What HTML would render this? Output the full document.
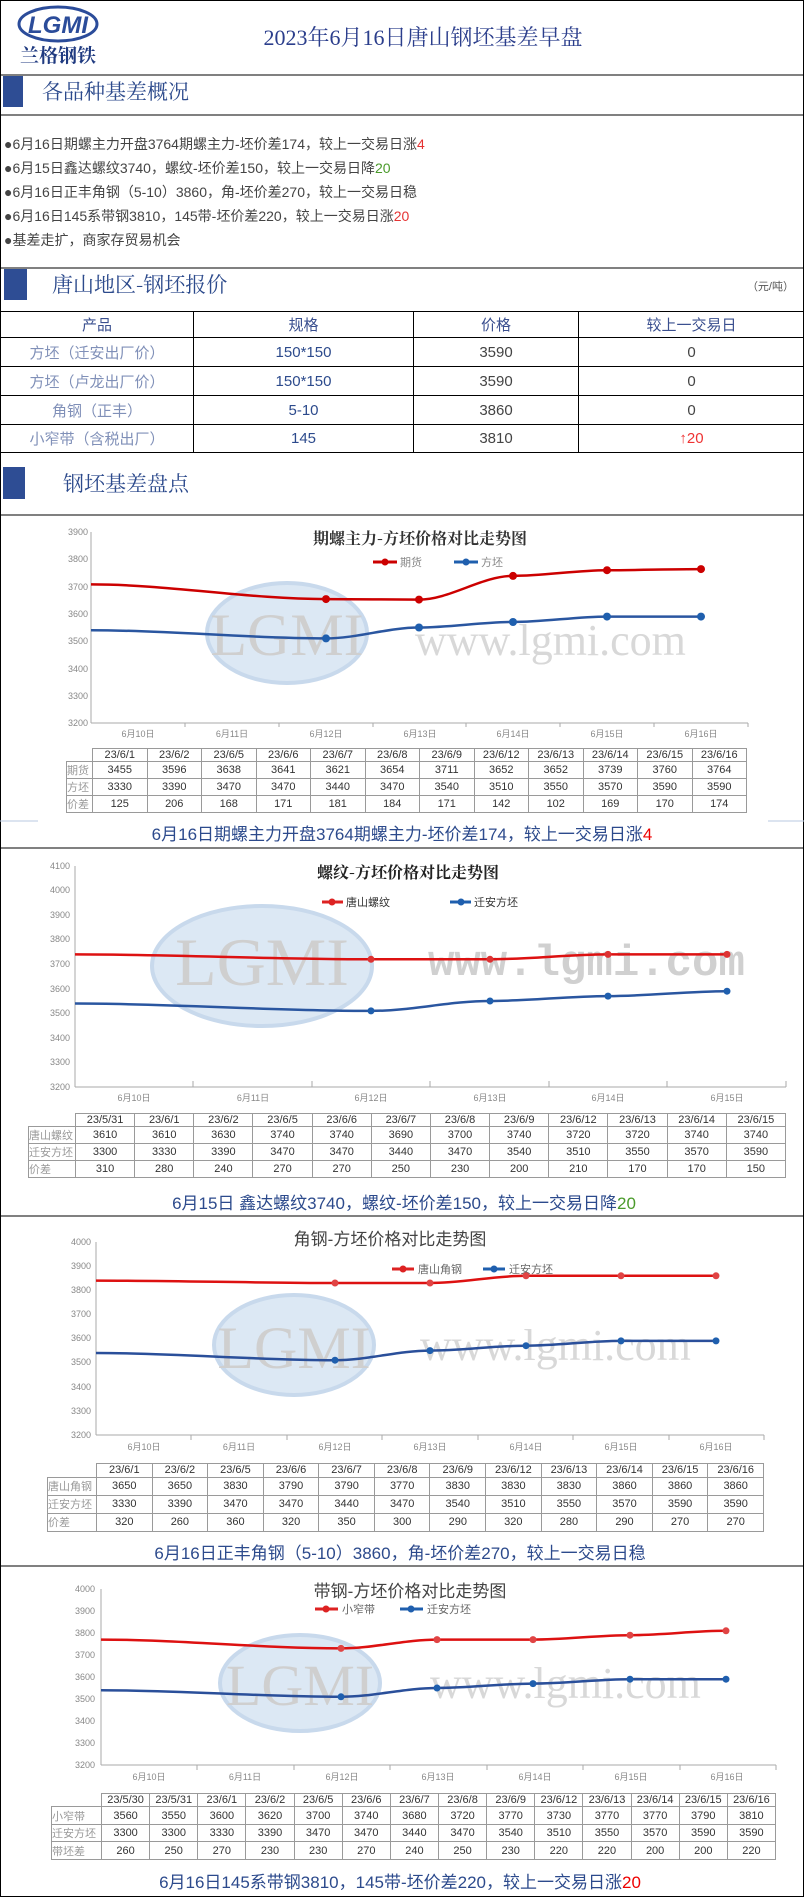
<!DOCTYPE html>
<html><head><meta charset="utf-8">
<style>
*{margin:0;padding:0;box-sizing:border-box}
body{width:804px;height:1897px;background:#fff;position:relative;overflow:hidden;font-family:"Liberation Sans","Noto Sans CJK SC",sans-serif}
svg{position:absolute;left:0;top:0}
table{position:absolute;border-collapse:collapse;table-layout:fixed;font-size:11px;color:#333}
td{border:1px solid #9a9a9a;text-align:center;padding:0;white-space:nowrap;overflow:hidden}
td.l{color:#999;text-align:left;font-size:11px}
td.e{border:none}
.pt td{font-size:15px;color:#444;border:1px solid #000}
</style></head><body>
<svg width="804" height="1897" viewBox="0 0 804 1897" font-family="Liberation Sans, Noto Sans CJK SC, sans-serif">
<rect x="0.5" y="0.5" width="803" height="1896" fill="none" stroke="#000"/>
<!-- header -->
<ellipse cx="58" cy="24" rx="39" ry="17" fill="none" stroke="#2b4c9a" stroke-width="3"/>
<text x="58" y="33" font-size="24" font-weight="bold" fill="#2b4c9a" text-anchor="middle" font-style="italic">LGMI</text>
<text x="58" y="62" font-size="19" font-weight="bold" fill="#1f3a80" text-anchor="middle" font-family="Noto Serif CJK SC, serif">兰格钢铁</text>
<text x="423" y="45" font-size="22" fill="#2b3e8c" text-anchor="middle" font-family="Liberation Serif, Noto Serif CJK SC, serif">2023年6月16日唐山钢坯基差早盘</text>
<line x1="0" y1="75" x2="804" y2="75" stroke="#000"/>
<rect x="3" y="76" width="20" height="31" fill="#2e4d94"/>
<text x="42" y="99" font-size="21" fill="#2c4a8c" font-family="Noto Serif CJK SC, serif">各品种基差概况</text>
<line x1="0" y1="115" x2="804" y2="115" stroke="#000"/>
<g font-size="14" fill="#444">
<text x="4" y="149">●6月16日期螺主力开盘3764期螺主力-坯价差174，较上一交易日涨<tspan fill="#e53333">4</tspan></text>
<text x="4" y="173">●6月15日鑫达螺纹3740，螺纹-坯价差150，较上一交易日降<tspan fill="#4a9a2a">20</tspan></text>
<text x="4" y="197">●6月16日正丰角钢（5-10）3860，角-坯价差270，较上一交易日稳</text>
<text x="4" y="221">●6月16日145系带钢3810，145带-坯价差220，较上一交易日涨<tspan fill="#e53333">20</tspan></text>
<text x="4" y="245">●基差走扩，商家存贸易机会</text>
</g>
<line x1="0" y1="268" x2="804" y2="268" stroke="#000"/>
<rect x="4" y="269" width="23" height="31" fill="#2e4d94"/>
<text x="52" y="292" font-size="21" fill="#2c4a8c" font-family="Noto Serif CJK SC, serif">唐山地区-钢坯报价</text>
<text x="794" y="290" font-size="11" fill="#555" text-anchor="end">（元/吨）</text>
<rect x="3" y="467" width="22" height="32" fill="#2e4d94"/>
<text x="63" y="491" font-size="21" fill="#2c4a8c" font-family="Noto Serif CJK SC, serif">钢坯基差盘点</text>
<line x1="0" y1="515" x2="804" y2="515" stroke="#000"/>

<!-- chart 1 -->
<ellipse cx="287" cy="633" rx="80" ry="50" fill="#dce8f4" stroke="#c8d9ec" stroke-width="4"/>
<text x="287" y="655" font-size="60" fill="#cfcfcf" text-anchor="middle" font-family="Liberation Serif, serif">LGMI</text>
<text x="415" y="655" font-size="44" fill="#d8d8d8" font-family="Liberation Serif, serif">www.lgmi.com</text>
<text x="420" y="544" font-size="16" font-weight="bold" fill="#333" text-anchor="middle" font-family="Noto Serif CJK SC, serif">期螺主力-方坯价格对比走势图</text>
<line x1="373" y1="562" x2="397" y2="562" stroke="#c00" stroke-width="3"/><circle cx="385" cy="562" r="3.5" fill="#c00"/><text x="400" y="566" font-size="11" fill="#888">期货</text>
<line x1="454" y1="562" x2="478" y2="562" stroke="#1f5fae" stroke-width="3"/><circle cx="466" cy="562" r="3.5" fill="#1f5fae"/><text x="481" y="566" font-size="11" fill="#888">方坯</text>
<g font-size="9" fill="#888" text-anchor="end">
<text x="88" y="535">3900</text><text x="88" y="562">3800</text><text x="88" y="590">3700</text><text x="88" y="617">3600</text><text x="88" y="644">3500</text><text x="88" y="672">3400</text><text x="88" y="699">3300</text><text x="88" y="726">3200</text></g>
<g stroke="#aaa"><line x1="91" y1="532" x2="91" y2="723"/><line x1="91" y1="723" x2="748" y2="723"/>
<line x1="185" y1="723" x2="185" y2="727"/><line x1="279" y1="723" x2="279" y2="727"/><line x1="373" y1="723" x2="373" y2="727"/><line x1="466" y1="723" x2="466" y2="727"/><line x1="560" y1="723" x2="560" y2="727"/><line x1="654" y1="723" x2="654" y2="727"/><line x1="748" y1="723" x2="748" y2="727"/></g>
<g font-size="9" fill="#888" text-anchor="middle"><text x="138" y="737">6月10日</text><text x="232" y="737">6月11日</text><text x="326" y="737">6月12日</text><text x="420" y="737">6月13日</text><text x="513" y="737">6月14日</text><text x="607" y="737">6月15日</text><text x="701" y="737">6月16日</text></g>
<path d="M91 584.4 C169 584.4 248 599.1 326 599.1 C357 599.1 388 599.6 419 599.6 C450 599.6 482 575.9 513 575.9 C544 575.9 576 570.2 607 570.2 C638 570.2 670 569.1 701 569.1" fill="none" stroke="#c00" stroke-width="2.5"/>
<path d="M91 630.2 C169 630.2 248 638.4 326 638.4 C357 638.4 388 627.5 419 627.5 C450 627.5 482 622 513 622 C544 622 576 616.6 607 616.6 C638 616.6 670 616.6 701 616.6" fill="none" stroke="#2a56a0" stroke-width="2.5"/>
<g fill="#c00"><circle cx="326" cy="599.1" r="4"/><circle cx="419" cy="599.6" r="4"/><circle cx="513" cy="575.9" r="4"/><circle cx="607" cy="570.2" r="4"/><circle cx="701" cy="569.1" r="4"/></g>
<g fill="#1f5fae"><circle cx="326" cy="638.4" r="4"/><circle cx="419" cy="627.5" r="4"/><circle cx="513" cy="622" r="4"/><circle cx="607" cy="616.6" r="4"/><circle cx="701" cy="616.6" r="4"/></g>
<line x1="0" y1="821" x2="38" y2="821" stroke="#b8c8e0"/><line x1="768" y1="821" x2="804" y2="821" stroke="#b8c8e0"/>
<text x="402" y="840" font-size="17" fill="#2c4a8c" text-anchor="middle">6月16日期螺主力开盘3764期螺主力-坯价差174，较上一交易日涨<tspan fill="#e00">4</tspan></text>
<line x1="0" y1="848" x2="804" y2="848" stroke="#000"/>

<!-- chart 2 -->
<ellipse cx="262" cy="966" rx="110" ry="60" fill="#dce8f4" stroke="#c8d9ec" stroke-width="4"/>
<text x="262" y="985" font-size="68" fill="#cfcfcf" text-anchor="middle" font-family="Liberation Serif, serif">LGMI</text>
<text x="428" y="975" font-size="44" fill="#d0d0d0" font-family="Liberation Mono, monospace" font-weight="bold">www.lgmi.com</text>
<text x="408" y="878" font-size="16" font-weight="bold" fill="#222" text-anchor="middle" font-family="Noto Serif CJK SC, serif">螺纹-方坯价格对比走势图</text>
<line x1="322" y1="902" x2="343" y2="902" stroke="#d22" stroke-width="3"/><circle cx="332" cy="902" r="3.5" fill="#d22"/><text x="346" y="906" font-size="11" fill="#333">唐山螺纹</text>
<line x1="450" y1="902" x2="471" y2="902" stroke="#1f5fae" stroke-width="3"/><circle cx="461" cy="902" r="3.5" fill="#1f5fae"/><text x="474" y="906" font-size="11" fill="#333">迁安方坯</text>
<g font-size="9" fill="#888" text-anchor="end">
<text x="70" y="869">4100</text><text x="70" y="893">4000</text><text x="70" y="918">3900</text><text x="70" y="942">3800</text><text x="70" y="967">3700</text><text x="70" y="992">3600</text><text x="70" y="1016">3500</text><text x="70" y="1041">3400</text><text x="70" y="1065">3300</text><text x="70" y="1090">3200</text></g>
<g stroke="#aaa"><line x1="75" y1="866" x2="75" y2="1087"/><line x1="75" y1="1087" x2="786" y2="1087"/>
<line x1="193" y1="1081" x2="193" y2="1087"/><line x1="312" y1="1081" x2="312" y2="1087"/><line x1="430" y1="1081" x2="430" y2="1087"/><line x1="549" y1="1081" x2="549" y2="1087"/><line x1="667" y1="1081" x2="667" y2="1087"/><line x1="786" y1="1081" x2="786" y2="1087"/></g>
<g font-size="9" fill="#888" text-anchor="middle"><text x="134" y="1101">6月10日</text><text x="253" y="1101">6月11日</text><text x="371" y="1101">6月12日</text><text x="490" y="1101">6月13日</text><text x="608" y="1101">6月14日</text><text x="727" y="1101">6月15日</text></g>
<path d="M75 954.4 C174 954.4 272 959.3 371 959.3 C411 959.3 450 959.3 490 959.3 C529 959.3 569 954.4 608 954.4 C648 954.4 687 954.4 727 954.4" fill="none" stroke="#d11" stroke-width="2.5"/>
<path d="M75 1003.5 C174 1003.5 272 1010.9 371 1010.9 C411 1010.9 450 1001 490 1001 C529 1001 569 996.1 608 996.1 C648 996.1 687 991.2 727 991.2" fill="none" stroke="#2a56a0" stroke-width="2.5"/>
<g fill="#d33"><circle cx="371" cy="959.3" r="3.5"/><circle cx="490" cy="959.3" r="3.5"/><circle cx="608" cy="954.4" r="3.5"/><circle cx="727" cy="954.4" r="3.5"/></g>
<g fill="#1f5fae"><circle cx="371" cy="1010.9" r="3.5"/><circle cx="490" cy="1001" r="3.5"/><circle cx="608" cy="996.1" r="3.5"/><circle cx="727" cy="991.2" r="3.5"/></g>
<text x="404" y="1209" font-size="17" fill="#2c4a8c" text-anchor="middle">6月15日 鑫达螺纹3740，螺纹-坯价差150，较上一交易日降<tspan fill="#4a9a2a">20</tspan></text>
<line x1="0" y1="1216" x2="804" y2="1216" stroke="#000"/>

<!-- chart 3 -->
<ellipse cx="294" cy="1345" rx="80" ry="50" fill="#dce8f4" stroke="#c8d9ec" stroke-width="4"/>
<text x="294" y="1368" font-size="60" fill="#cfcfcf" text-anchor="middle" font-family="Liberation Serif, serif">LGMI</text>
<text x="420" y="1360" font-size="44" fill="#d8d8d8" font-family="Liberation Serif, serif">www.lgmi.com</text>
<text x="390" y="1245" font-size="17" fill="#444" text-anchor="middle">角钢-方坯价格对比走势图</text>
<line x1="392" y1="1269" x2="414" y2="1269" stroke="#d22" stroke-width="3"/><circle cx="403" cy="1269" r="3.5" fill="#d22"/><text x="418" y="1273" font-size="11" fill="#666">唐山角钢</text>
<line x1="483" y1="1269" x2="505" y2="1269" stroke="#1f5fae" stroke-width="3"/><circle cx="494" cy="1269" r="3.5" fill="#1f5fae"/><text x="509" y="1273" font-size="11" fill="#666">迁安方坯</text>
<g font-size="9" fill="#888" text-anchor="end">
<text x="91" y="1245">4000</text><text x="91" y="1269">3900</text><text x="91" y="1293">3800</text><text x="91" y="1317">3700</text><text x="91" y="1341">3600</text><text x="91" y="1365">3500</text><text x="91" y="1390">3400</text><text x="91" y="1414">3300</text><text x="91" y="1438">3200</text></g>
<g stroke="#aaa"><line x1="96" y1="1242" x2="96" y2="1435"/><line x1="96" y1="1435" x2="764" y2="1435"/>
<line x1="191" y1="1435" x2="191" y2="1440"/><line x1="287" y1="1435" x2="287" y2="1440"/><line x1="382" y1="1435" x2="382" y2="1440"/><line x1="478" y1="1435" x2="478" y2="1440"/><line x1="573" y1="1435" x2="573" y2="1440"/><line x1="669" y1="1435" x2="669" y2="1440"/><line x1="764" y1="1435" x2="764" y2="1440"/></g>
<g font-size="9" fill="#888" text-anchor="middle"><text x="144" y="1450">6月10日</text><text x="239" y="1450">6月11日</text><text x="335" y="1450">6月12日</text><text x="430" y="1450">6月13日</text><text x="526" y="1450">6月14日</text><text x="621" y="1450">6月15日</text><text x="716" y="1450">6月16日</text></g>
<path d="M96 1280.6 C176 1280.6 255 1283 335 1283 C367 1283 398 1283 430 1283 C462 1283 494 1275.8 526 1275.8 C558 1275.8 589 1275.8 621 1275.8 C653 1275.8 684 1275.8 716 1275.8" fill="none" stroke="#d11" stroke-width="2.5"/>
<path d="M96 1353 C176 1353 255 1360.2 335 1360.2 C367 1360.2 398 1350.6 430 1350.6 C462 1350.6 494 1345.7 526 1345.7 C558 1345.7 589 1340.9 621 1340.9 C653 1340.9 684 1340.9 716 1340.9" fill="none" stroke="#2a4f9a" stroke-width="2.5"/>
<g fill="#e04444"><circle cx="335" cy="1283" r="3.5"/><circle cx="430" cy="1283" r="3.5"/><circle cx="526" cy="1275.8" r="3.5"/><circle cx="621" cy="1275.8" r="3.5"/><circle cx="716" cy="1275.8" r="3.5"/></g>
<g fill="#1f5fae"><circle cx="335" cy="1360.2" r="3.5"/><circle cx="430" cy="1350.6" r="3.5"/><circle cx="526" cy="1345.7" r="3.5"/><circle cx="621" cy="1340.9" r="3.5"/><circle cx="716" cy="1340.9" r="3.5"/></g>
<text x="400" y="1559" font-size="17" fill="#2c4a8c" text-anchor="middle">6月16日正丰角钢（5-10）3860，角-坯价差270，较上一交易日稳</text>
<line x1="0" y1="1566" x2="804" y2="1566" stroke="#000"/>

<!-- chart 4 -->
<ellipse cx="300" cy="1683" rx="80" ry="48" fill="#dce8f4" stroke="#c8d9ec" stroke-width="4"/>
<text x="300" y="1705" font-size="58" fill="#cfcfcf" text-anchor="middle" font-family="Liberation Serif, serif">LGMI</text>
<text x="430" y="1698" font-size="44" fill="#d8d8d8" font-family="Liberation Serif, serif">www.lgmi.com</text>
<text x="410" y="1597" font-size="17" fill="#444" text-anchor="middle">带钢-方坯价格对比走势图</text>
<line x1="315" y1="1609" x2="338" y2="1609" stroke="#d22" stroke-width="3"/><circle cx="326" cy="1609" r="3.5" fill="#d22"/><text x="342" y="1613" font-size="11" fill="#666">小窄带</text>
<line x1="400" y1="1609" x2="423" y2="1609" stroke="#1f5fae" stroke-width="3"/><circle cx="411" cy="1609" r="3.5" fill="#1f5fae"/><text x="427" y="1613" font-size="11" fill="#666">迁安方坯</text>
<g font-size="9" fill="#888" text-anchor="end">
<text x="95" y="1592">4000</text><text x="95" y="1614">3900</text><text x="95" y="1636">3800</text><text x="95" y="1658">3700</text><text x="95" y="1680">3600</text><text x="95" y="1702">3500</text><text x="95" y="1724">3400</text><text x="95" y="1746">3300</text><text x="95" y="1768">3200</text></g>
<g stroke="#aaa"><line x1="101" y1="1589" x2="101" y2="1765"/><line x1="101" y1="1765" x2="776" y2="1765"/>
<line x1="197" y1="1765" x2="197" y2="1770"/><line x1="294" y1="1765" x2="294" y2="1770"/><line x1="390" y1="1765" x2="390" y2="1770"/><line x1="487" y1="1765" x2="487" y2="1770"/><line x1="583" y1="1765" x2="583" y2="1770"/><line x1="680" y1="1765" x2="680" y2="1770"/><line x1="776" y1="1765" x2="776" y2="1770"/></g>
<g font-size="9" fill="#888" text-anchor="middle"><text x="149" y="1780">6月10日</text><text x="245" y="1780">6月11日</text><text x="342" y="1780">6月12日</text><text x="438" y="1780">6月13日</text><text x="535" y="1780">6月14日</text><text x="631" y="1780">6月15日</text><text x="727" y="1780">6月16日</text></g>
<path d="M101 1639.6 C181 1639.6 261 1648.4 341 1648.4 C373 1648.4 405 1639.6 437 1639.6 C469 1639.6 501 1639.6 533 1639.6 C565 1639.6 598 1635.2 630 1635.2 C662 1635.2 694 1630.8 726 1630.8" fill="none" stroke="#d11" stroke-width="2.5"/>
<path d="M101 1690.2 C181 1690.2 261 1696.8 341 1696.8 C373 1696.8 405 1688 437 1688 C469 1688 501 1683.6 533 1683.6 C565 1683.6 598 1679.2 630 1679.2 C662 1679.2 694 1679.2 726 1679.2" fill="none" stroke="#2a4f9a" stroke-width="2.5"/>
<g fill="#e04444"><circle cx="341" cy="1648.4" r="3.5"/><circle cx="437" cy="1639.6" r="3.5"/><circle cx="533" cy="1639.6" r="3.5"/><circle cx="630" cy="1635.2" r="3.5"/><circle cx="726" cy="1630.8" r="3.5"/></g>
<g fill="#1f5fae"><circle cx="341" cy="1696.8" r="3.5"/><circle cx="437" cy="1688" r="3.5"/><circle cx="533" cy="1683.6" r="3.5"/><circle cx="630" cy="1679.2" r="3.5"/><circle cx="726" cy="1679.2" r="3.5"/></g>
<text x="400" y="1888" font-size="17" fill="#2c4a8c" text-anchor="middle">6月16日145系带钢3810，145带-坯价差220，较上一交易日涨<tspan fill="#e00">20</tspan></text>
</svg>

<table class="pt" style="left:0;top:311px;width:804px;height:141px">
<colgroup><col style="width:193px"><col style="width:220px"><col style="width:165px"><col style="width:226px"></colgroup>
<tr style="height:26px"><td style="color:#3a4f8f">产品</td><td style="color:#3a4f8f">规格</td><td style="color:#3a4f8f">价格</td><td style="color:#3a4f8f">较上一交易日</td></tr>
<tr style="height:29px"><td style="color:#8090b8">方坯（迁安出厂价）</td><td style="color:#2c4a8c">150*150</td><td>3590</td><td>0</td></tr>
<tr style="height:29px"><td style="color:#8090b8">方坯（卢龙出厂价）</td><td style="color:#2c4a8c">150*150</td><td>3590</td><td>0</td></tr>
<tr style="height:29px"><td style="color:#8090b8">角钢（正丰）</td><td style="color:#2c4a8c">5-10</td><td>3860</td><td>0</td></tr>
<tr style="height:28px"><td style="color:#8090b8">小窄带（含税出厂）</td><td style="color:#2c4a8c">145</td><td>3810</td><td style="color:#e33">↑20</td></tr>
</table>

<table style="left:66px;top:748px;width:681px;height:63px">
<colgroup><col style="width:26px"><col span="12"></colgroup>
<tr><td class="e"></td><td>23/6/1</td><td>23/6/2</td><td>23/6/5</td><td>23/6/6</td><td>23/6/7</td><td>23/6/8</td><td>23/6/9</td><td>23/6/12</td><td>23/6/13</td><td>23/6/14</td><td>23/6/15</td><td>23/6/16</td></tr>
<tr><td class="l">期货</td><td>3455</td><td>3596</td><td>3638</td><td>3641</td><td>3621</td><td>3654</td><td>3711</td><td>3652</td><td>3652</td><td>3739</td><td>3760</td><td>3764</td></tr>
<tr><td class="l">方坯</td><td>3330</td><td>3390</td><td>3470</td><td>3470</td><td>3440</td><td>3470</td><td>3540</td><td>3510</td><td>3550</td><td>3570</td><td>3590</td><td>3590</td></tr>
<tr><td class="l">价差</td><td>125</td><td>206</td><td>168</td><td>171</td><td>181</td><td>184</td><td>171</td><td>142</td><td>102</td><td>169</td><td>170</td><td>174</td></tr>
</table>

<table style="left:28px;top:1113px;width:758px;height:61px">
<colgroup><col style="width:47px"><col span="12"></colgroup>
<tr><td class="e"></td><td>23/5/31</td><td>23/6/1</td><td>23/6/2</td><td>23/6/5</td><td>23/6/6</td><td>23/6/7</td><td>23/6/8</td><td>23/6/9</td><td>23/6/12</td><td>23/6/13</td><td>23/6/14</td><td>23/6/15</td></tr>
<tr><td class="l">唐山螺纹</td><td>3610</td><td>3610</td><td>3630</td><td>3740</td><td>3740</td><td>3690</td><td>3700</td><td>3740</td><td>3720</td><td>3720</td><td>3740</td><td>3740</td></tr>
<tr><td class="l">迁安方坯</td><td>3300</td><td>3330</td><td>3390</td><td>3470</td><td>3470</td><td>3440</td><td>3470</td><td>3540</td><td>3510</td><td>3550</td><td>3570</td><td>3590</td></tr>
<tr><td class="l">价差</td><td>310</td><td>280</td><td>240</td><td>270</td><td>270</td><td>250</td><td>230</td><td>200</td><td>210</td><td>170</td><td>170</td><td>150</td></tr>
</table>

<table style="left:47px;top:1463px;width:717px;height:69px">
<colgroup><col style="width:49px"><col span="12"></colgroup>
<tr><td class="e"></td><td>23/6/1</td><td>23/6/2</td><td>23/6/5</td><td>23/6/6</td><td>23/6/7</td><td>23/6/8</td><td>23/6/9</td><td>23/6/12</td><td>23/6/13</td><td>23/6/14</td><td>23/6/15</td><td>23/6/16</td></tr>
<tr><td class="l">唐山角钢</td><td>3650</td><td>3650</td><td>3830</td><td>3790</td><td>3790</td><td>3770</td><td>3830</td><td>3830</td><td>3830</td><td>3860</td><td>3860</td><td>3860</td></tr>
<tr><td class="l">迁安方坯</td><td>3330</td><td>3390</td><td>3470</td><td>3470</td><td>3440</td><td>3470</td><td>3540</td><td>3510</td><td>3550</td><td>3570</td><td>3590</td><td>3590</td></tr>
<tr><td class="l">价差</td><td>320</td><td>260</td><td>360</td><td>320</td><td>350</td><td>300</td><td>290</td><td>320</td><td>280</td><td>290</td><td>270</td><td>270</td></tr>
</table>

<table style="left:51px;top:1793px;width:725px;height:67px">
<colgroup><col style="width:50px"><col span="14"></colgroup>
<tr><td class="e"></td><td>23/5/30</td><td>23/5/31</td><td>23/6/1</td><td>23/6/2</td><td>23/6/5</td><td>23/6/6</td><td>23/6/7</td><td>23/6/8</td><td>23/6/9</td><td>23/6/12</td><td>23/6/13</td><td>23/6/14</td><td>23/6/15</td><td>23/6/16</td></tr>
<tr><td class="l">小窄带</td><td>3560</td><td>3550</td><td>3600</td><td>3620</td><td>3700</td><td>3740</td><td>3680</td><td>3720</td><td>3770</td><td>3730</td><td>3770</td><td>3770</td><td>3790</td><td>3810</td></tr>
<tr><td class="l">迁安方坯</td><td>3300</td><td>3300</td><td>3330</td><td>3390</td><td>3470</td><td>3470</td><td>3440</td><td>3470</td><td>3540</td><td>3510</td><td>3550</td><td>3570</td><td>3590</td><td>3590</td></tr>
<tr><td class="l">带坯差</td><td>260</td><td>250</td><td>270</td><td>230</td><td>230</td><td>270</td><td>240</td><td>250</td><td>230</td><td>220</td><td>220</td><td>200</td><td>200</td><td>220</td></tr>
</table>
</body></html>
